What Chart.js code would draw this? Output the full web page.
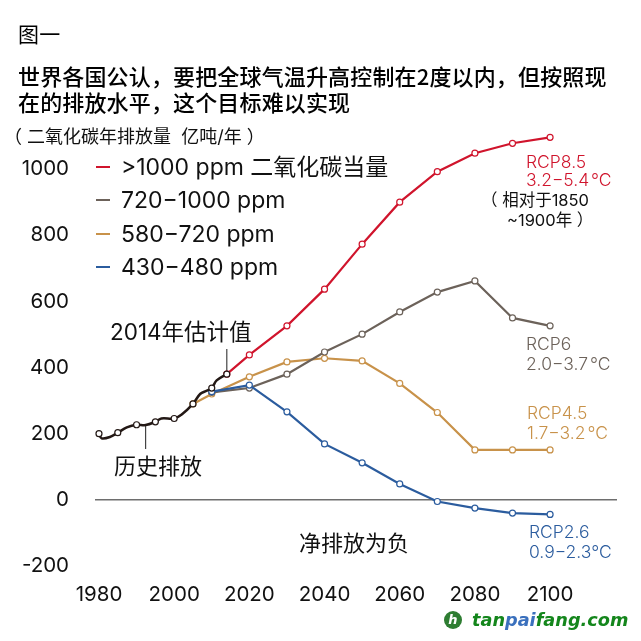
<!DOCTYPE html>
<html lang="zh">
<head>
<meta charset="utf-8">
<title>图一</title>
<script src="https://cdn.jsdelivr.net/npm/chart.js@4/dist/chart.umd.min.js"></script>
<style>
  html, body { margin: 0; padding: 0; background: #fff; }
  #wrap { position: relative; width: 641px; height: 641px; overflow: hidden; font-family: Inter, "Noto Sans CJK SC", sans-serif; color: #111; }
  canvas { position: absolute; left: 0; top: 0; }
  .t { position: absolute; white-space: pre; line-height: 1; transform: translateY(-50%); }
  .head { font-family: "Noto Sans CJK SC", sans-serif; font-weight: 500; font-size: 22px; letter-spacing: 0.15px; color: #000; }
  .note { font-size: 22px; font-weight: 400; }
  .rcp { font-size: 17.5px; font-weight: 300; word-spacing: -3px; }
  #legend .swatch { position: absolute; left: 96px; width: 14px; height: 2px; }
  #legend .t { left: 121px; font-size: 23px; font-weight: 400; }
  .logo { position: absolute; left: 444px; top: 611px; width: 18px; height: 18px; border-radius: 50%; background: #2e7d32; color: #fff; font: italic bold 13px/18px "DejaVu Sans", sans-serif; text-align: center; }
  .site { left: 472px; top: 620px; font: italic bold 17.7px "DejaVu Sans", sans-serif; color: #14861c; }
  .site span { color: #3a70bd; }
</style>
</head>
<body>
<div id="wrap">
  <canvas id="chart" width="641" height="641"></canvas>

  <div class="t head" style="left:18px;top:33px;font-size:21px;font-weight:400">图一</div>
  <div class="t head" style="left:18px;top:75px">世界各国公认&#xFF0C;要把全球气温升高控制在2度以内&#xFF0C;但按照现</div>
  <div class="t head" style="left:18px;top:101px">在的排放水平&#xFF0C;这个目标难以实现</div>
  <div class="t" style="left:4px;top:137px;font-size:18px;font-weight:400">&#xFF08; 二氧化碳年排放量  亿吨/年 &#xFF09;</div>

  <div id="legend"></div>

  <div class="t note" style="left:110px;top:332px;font-size:22.5px">2014年估计值</div>
  <div class="t note" style="left:114px;top:466px">历史排放</div>
  <div class="t note" style="left:299px;top:543px">净排放为负</div>

  <div class="t rcp" style="left:526px;top:162px;color:#d0142c">RCP8.5</div>
  <div class="t rcp" style="left:526px;top:180px;color:#d0142c">3.2−5.4 °C</div>
  <div class="t rcp" style="left:481px;top:200px;font-size:16.5px;font-weight:400;word-spacing:0">&#xFF08; 相对于1850</div>
  <div class="t rcp" style="left:507px;top:220px;font-size:16.5px;font-weight:400;word-spacing:0">~1900年 &#xFF09;</div>
  <div class="t rcp" style="left:526px;top:344px;color:#6c625a">RCP6</div>
  <div class="t rcp" style="left:526px;top:364px;color:#6c625a">2.0−3.7 °C</div>
  <div class="t rcp" style="left:527px;top:413px;color:#c8924a">RCP4.5</div>
  <div class="t rcp" style="left:527px;top:433px;color:#c8924a">1.7−3.2 °C</div>
  <div class="t rcp" style="left:529px;top:532px;color:#2b5c9e">RCP2.6</div>
  <div class="t rcp" style="left:529px;top:552px;color:#2b5c9e">0.9−2.3°C</div>

  <div class="logo">h</div>
  <div class="t site">tan<span>pai</span>fang.com</div>
</div>

<script>
/* data */
const yTicks = [1000, 800, 600, 400, 200, 0, -200];
const xTicks = [1980, 2000, 2020, 2040, 2060, 2080, 2100];

const histYears = [1980, 1980.7, 1982.9, 1985, 1987.4, 1990, 1992.4, 1995, 1996.6, 2000, 2002, 2005, 2006.9, 2008.7, 2010, 2011.3, 2014];
const histValues = [200, 186, 190, 203, 219, 227, 226, 236, 246, 246, 258, 290, 320, 330, 338, 361, 380];
const histMarkerYears = [1980, 1985, 1990, 1995, 2000, 2005, 2010, 2014];

const redYears = [2014, 2020, 2030, 2040, 2050, 2060, 2070, 2080, 2090, 2100];
const redValues = [380, 438, 526, 637, 773, 900, 992, 1048, 1078, 1096];
const grayYears = [2010, 2020, 2030, 2040, 2050, 2060, 2070, 2080, 2090, 2100];
const grayValues = [325, 338, 380, 447, 501, 568, 628, 662, 550, 526];
const orangeYears = [2005, 2010, 2020, 2030, 2040, 2050, 2060, 2070, 2080, 2090, 2100];
const orangeValues = [290, 320, 372, 417, 428, 420, 352, 264, 151, 151, 151];
const blueYears = [2010, 2020, 2030, 2040, 2050, 2060, 2070, 2080, 2090, 2100];
const blueValues = [327, 347, 266, 169, 112, 48, -5, -25, -40, -44];

const legendLabels = ['>1000 ppm 二氧化碳当量', '720−1000 ppm', '580−720 ppm', '430−480 ppm'];
const legendColors = ['#d0142c', '#6c625a', '#c8924a', '#2b5c9e'];

const leaderEstimate = [[2014, 380], [2014, 456]];
const leaderHistory = [[1992.4, 226], [1992.4, 154]];

const toPoints = (xs, ys) => xs.map((x, i) => ({ x: x, y: ys[i] }));
const tickFont = { family: 'Inter, "Noto Sans CJK SC", sans-serif', size: 20.5, weight: 400 };

/* legend */
const legendEl = document.getElementById('legend');
legendLabels.forEach((label, i) => {
  const top = 167 + i * 33.4;
  const swatch = document.createElement('div');
  swatch.className = 'swatch';
  swatch.style.top = (top - 1) + 'px';
  swatch.style.background = legendColors[i];
  const text = document.createElement('div');
  text.className = 't';
  text.style.top = top + 'px';
  text.textContent = label;
  legendEl.appendChild(swatch);
  legendEl.appendChild(text);
});

function rcpLine(label, xs, ys, color, order) {
  return {
    label: label,
    data: toPoints(xs, ys),
    borderColor: color,
    borderWidth: 2.2,
    backgroundColor: '#fff',
    pointBackgroundColor: '#fff',
    pointBorderColor: color,
    pointBorderWidth: 1.2,
    pointRadius: 3,
    tension: 0,
    clip: false,
    order: order
  };
}

function leader(points) {
  return {
    data: points.map(p => ({ x: p[0], y: p[1] })),
    borderColor: '#444',
    borderWidth: 1.2,
    pointRadius: 0,
    order: 6
  };
}

new Chart(document.getElementById('chart'), {
  type: 'line',
  data: {
    datasets: [
      {
        label: '历史排放',
        data: toPoints(histYears, histValues),
        borderColor: '#231815',
        borderWidth: 2.5,
        tension: 0.35,
        pointBackgroundColor: '#fff',
        pointBorderColor: '#231815',
        pointBorderWidth: 1.2,
        pointRadius: ctx => histMarkerYears.includes(histYears[ctx.dataIndex]) ? 3 : 0,
        order: 0
      },
      rcpLine(legendLabels[0], redYears, redValues, legendColors[0], 1),
      rcpLine(legendLabels[3], blueYears, blueValues, legendColors[3], 2),
      rcpLine(legendLabels[1], grayYears, grayValues, legendColors[1], 3),
      rcpLine(legendLabels[2], orangeYears, orangeValues, legendColors[2], 4),
      leader(leaderEstimate),
      leader(leaderHistory)
    ]
  },
  options: {
    responsive: false,
    animation: false,
    layout: { padding: { top: 136, right: 24, left: 0, bottom: 0 } },
    plugins: { legend: { display: false }, tooltip: { enabled: false } },
    scales: {
      x: {
        type: 'linear',
        min: 1978.94,
        max: 2117.8,
        afterBuildTicks: axis => { axis.ticks = xTicks.map(v => ({ value: v })); },
        afterFit: axis => { axis.height = 75; },
        grid: { display: false },
        border: { display: false },
        ticks: {
          padding: 9,
          color: '#111',
          font: tickFont,
          maxRotation: 0,
          autoSkip: false,
          callback: v => String(v)
        }
      },
      y: {
        min: -200,
        max: 1100,
        afterBuildTicks: axis => { axis.ticks = yTicks.map(v => ({ value: v })); },
        afterFit: axis => { axis.width = 95; },
        border: { display: false },
        grid: {
          drawTicks: false,
          lineWidth: 1.5,
          color: ctx => ctx.tick && ctx.tick.value === 0 ? '#6e6e6e' : 'transparent'
        },
        ticks: {
          padding: 26,
          color: '#111',
          font: tickFont,
          autoSkip: false,
          callback: v => String(v)
        }
      }
    }
  }
});
</script>
</body>
</html>
